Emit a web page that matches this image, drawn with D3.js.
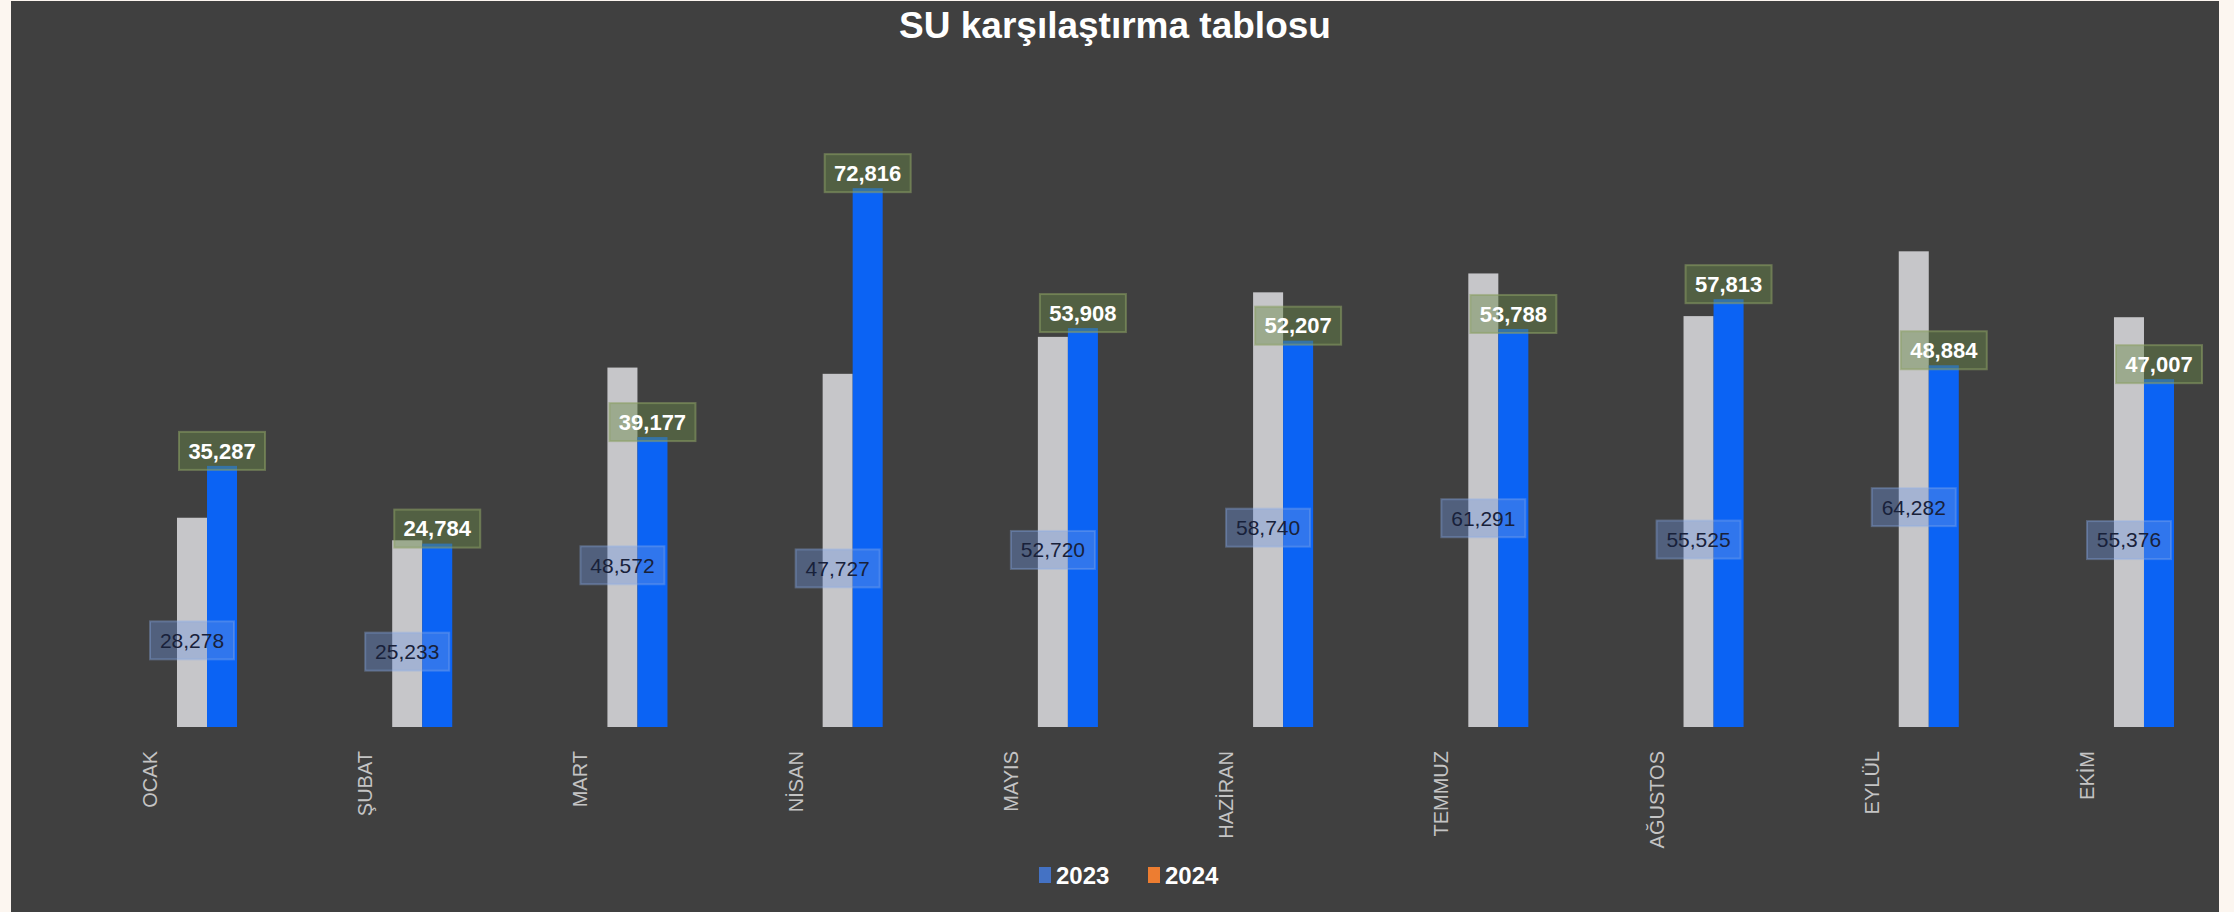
<!DOCTYPE html>
<html>
<head>
<meta charset="utf-8">
<script src="https://cdn.jsdelivr.net/npm/d3@7"></script>
<style>
  body { margin: 0; background: #fcf6f0; }
  svg { display: block; }
</style>
</head>
<body>
<div id="chart"></div>
<script>
// chart data
const months = ['OCAK', 'ŞUBAT', 'MART', 'NİSAN', 'MAYIS', 'HAZİRAN', 'TEMMUZ', 'AĞUSTOS', 'EYLÜL', 'EKİM'];
const values2023 = [28278, 25233, 48572, 47727, 52720, 58740, 61291, 55525, 64282, 55376];
const values2024 = [35287, 24784, 39177, 72816, 53908, 52207, 53788, 57813, 48884, 47007];
const seriesNames = ['2023', '2024'];
const legendColors = ['#4472c4', '#ed7d31'];
const title = 'SU karşılaştırma tablosu';

const width = 2234, height = 912;
const panel = { left: 11, top: 1, right: 2219, bottom: 912 };
const baseY = 727;

const data = months.map(function (m, i) {
    return { month: m, values: [values2023[i], values2024[i]] };
});

const svg = d3.select('#chart').append('svg')
    .attr('width', width)
    .attr('height', height);

// dark panel
svg.append('rect')
    .attr('x', panel.left).attr('y', panel.top)
    .attr('width', panel.right - panel.left)
    .attr('height', panel.bottom - panel.top)
    .attr('fill', '#404040');

// scales
const x0 = d3.scaleBand()
    .domain(months)
    .range([99.4, 2251.6])
    .paddingInner(0.721)
    .paddingOuter(0.3605);

const x1 = d3.scaleBand()
    .domain(seriesNames)
    .range([0, x0.bandwidth()]);

const y = d3.scaleLinear()
    .domain([0, 80000])
    .range([baseY, 135]);

const barColors = ['#c6c6c9', '#0b63f4'];
const fmt = d3.format(',');

// title
svg.append('text')
    .attr('x', (panel.left + panel.right) / 2)
    .attr('y', 38)
    .attr('text-anchor', 'middle')
    .attr('fill', '#ffffff')
    .style('font-family', 'Liberation Sans, Arial, sans-serif')
    .style('font-weight', 'bold')
    .style('font-size', '37px')
    .text(title);

// bars
const groups = svg.append('g').selectAll('g')
    .data(data)
    .enter().append('g')
    .attr('transform', function (d) { return 'translate(' + x0(d.month) + ',0)'; });

groups.selectAll('rect')
    .data(function (d) { return d.values.map(function (v, i) { return { key: seriesNames[i], value: v, i: i }; }); })
    .enter().append('rect')
    .attr('x', function (d) { return x1(d.key); })
    .attr('y', function (d) { return y(d.value); })
    .attr('width', x1.bandwidth())
    .attr('height', function (d) { return y(0) - y(d.value); })
    .attr('fill', function (d) { return barColors[d.i]; });

// 2023 labels: inside the grey bar
const lab23 = groups.append('g')
    .attr('transform', function (d) {
        const cx = x1('2023') + x1.bandwidth() / 2;
        const cy = (y(0) + y(d.values[0])) / 2 + 18;
        return 'translate(' + cx + ',' + cy + ')';
    });
lab23.append('rect')
    .attr('x', -42).attr('y', -19)
    .attr('width', 84).attr('height', 38)
    .attr('fill', 'rgba(110,150,225,0.38)')
    .attr('stroke', 'rgba(140,175,235,0.35)')
    .attr('stroke-width', 2);
lab23.append('text')
    .attr('text-anchor', 'middle')
    .attr('dy', '0.35em')
    .attr('fill', '#18213a')
    .style('font-family', 'Liberation Sans, Arial, sans-serif')
    .style('font-size', '21px')
    .text(function (d) { return fmt(d.values[0]); });

// 2024 labels: above the blue bar
const lab24 = groups.append('g')
    .attr('transform', function (d) {
        const cx = x1('2024') + x1.bandwidth() / 2;
        const cy = y(d.values[1]) - 15;
        return 'translate(' + cx + ',' + cy + ')';
    });
lab24.append('rect')
    .attr('x', -43).attr('y', -19)
    .attr('width', 86).attr('height', 38)
    .attr('fill', 'rgba(105,135,70,0.45)')
    .attr('stroke', 'rgba(140,160,100,0.55)')
    .attr('stroke-width', 2);
lab24.append('text')
    .attr('text-anchor', 'middle')
    .attr('dy', '0.35em')
    .attr('fill', '#ffffff')
    .style('font-family', 'Liberation Sans, Arial, sans-serif')
    .style('font-weight', 'bold')
    .style('font-size', '22px')
    .text(function (d) { return fmt(d.values[1]); });

// category labels, rotated
svg.append('g').selectAll('text')
    .data(months)
    .enter().append('text')
    .attr('transform', function (d) {
        return 'translate(' + (x0(d) + x0.bandwidth() / 2 - 50) + ',' + 751 + ') rotate(-90)';
    })
    .attr('text-anchor', 'end')
    .attr('fill', '#c4c4c4')
    .style('font-family', 'Liberation Sans Narrow, Arial Narrow, Liberation Sans, sans-serif')
    .style('font-size', '20px')
    .text(function (d) { return d; });

// legend
const legend = svg.append('g').attr('transform', 'translate(1039,875)');
const item = legend.selectAll('g')
    .data(seriesNames)
    .enter().append('g')
    .attr('transform', function (d, i) { return 'translate(' + (i * 109) + ',0)'; });
item.append('rect')
    .attr('x', 0).attr('y', -8)
    .attr('width', 12).attr('height', 16)
    .attr('fill', function (d, i) { return legendColors[i]; });
item.append('text')
    .attr('x', 17)
    .attr('dy', '0.36em')
    .attr('fill', '#ffffff')
    .style('font-family', 'Liberation Sans, Arial, sans-serif')
    .style('font-weight', 'bold')
    .style('font-size', '24px')
    .text(function (d) { return d; });
</script>
</body>
</html>
